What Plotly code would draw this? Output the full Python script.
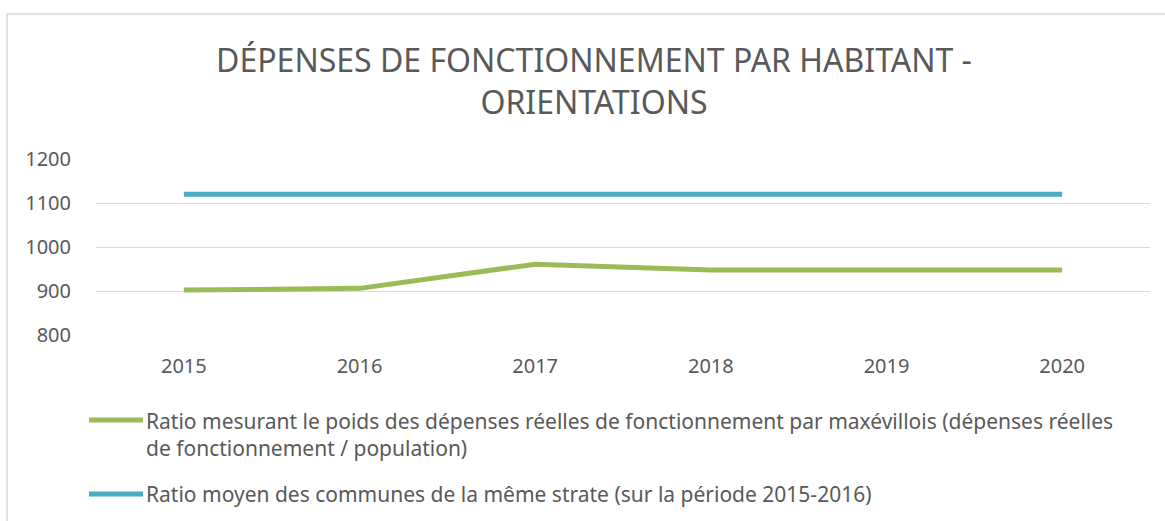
import plotly.graph_objects as go

years = ["2015", "2016", "2017", "2018", "2019", "2020"]
ratio_maxeville = [902, 906, 961, 948, 948, 948]
ratio_strate = [1120, 1120, 1120, 1120, 1120, 1120]
y_ticks = [800, 900, 1000, 1100, 1200]

name_green = ("Ratio mesurant le poids des dépenses réelles de fonctionnement par maxévillois (dépenses réelles"
              "<br>de fonctionnement / population)")
name_blue = "Ratio moyen des communes de la même strate (sur la période 2015-2016)"

FONT = "Noto Sans"
TXT = "#595959"
GREEN = "#9BBB59"
BLUE = "#4BACC6"

# plot area in pixels
L, R, T, B = 96, 1150, 159, 335
W, H = 1165, 521


def px(x):
    return (x - L) / (R - L)


def py(y):
    return (B - y) / (B - T)


fig = go.Figure()
fig.add_trace(go.Scatter(x=years, y=ratio_maxeville, mode="lines", name=name_green,
                         line=dict(color=GREEN, width=5), showlegend=False))
fig.add_trace(go.Scatter(x=years, y=ratio_strate, mode="lines", name=name_blue,
                         line=dict(color=BLUE, width=5), showlegend=False))

shapes = [
    dict(type="rect", xref="paper", yref="paper",
         x0=px(7), x1=px(1190), y0=py(540), y1=py(14),
         line=dict(color="#D9D9D9", width=1.5), fillcolor="rgba(0,0,0,0)", layer="below"),
    dict(type="line", xref="paper", yref="paper", x0=px(89), x1=px(143), y0=py(420), y1=py(420),
         line=dict(color=GREEN, width=5)),
    dict(type="line", xref="paper", yref="paper", x0=px(89), x1=px(143), y0=py(494), y1=py(494),
         line=dict(color=BLUE, width=5)),
]
annotations = [
    dict(xref="paper", yref="paper", x=px(144), y=py(434), xanchor="left", yanchor="middle",
         text=name_green, showarrow=False, align="left",
         font=dict(family=FONT, size=21, color=TXT)),
    dict(xref="paper", yref="paper", x=px(144), y=py(494), xanchor="left", yanchor="middle",
         text=name_blue, showarrow=False, align="left",
         font=dict(family=FONT, size=21, color=TXT)),
]

fig.update_layout(
    width=W, height=H,
    margin=dict(l=L, r=W - R, t=T, b=H - B),
    paper_bgcolor="white", plot_bgcolor="white",
    font=dict(family=FONT, color=TXT, size=20),
    title=dict(text="DÉPENSES DE FONCTIONNEMENT PAR HABITANT -<br>ORIENTATIONS",
               x=594 / W, xanchor="center", y=1 - 72 / H, yanchor="middle",
               font=dict(family=FONT, size=32, color=TXT)),
    showlegend=False,
    shapes=shapes,
    annotations=annotations,
)
fig.update_xaxes(type="category", range=[-0.5, 5.5], showgrid=False, showline=False, zeroline=False,
                 ticks="", tickfont=dict(size=20, color=TXT), ticklabelstandoff=17)
fig.update_yaxes(range=[800, 1200], tickvals=y_ticks, showgrid=True, gridcolor="#D9D9D9",
                 gridwidth=1.3, zeroline=False, showline=False, ticks="",
                 tickfont=dict(size=20, color=TXT), ticklabelstandoff=24)

fig.write_html("out.html", post_script="document.body.style.margin='0';",
               config={"displayModeBar": False})
